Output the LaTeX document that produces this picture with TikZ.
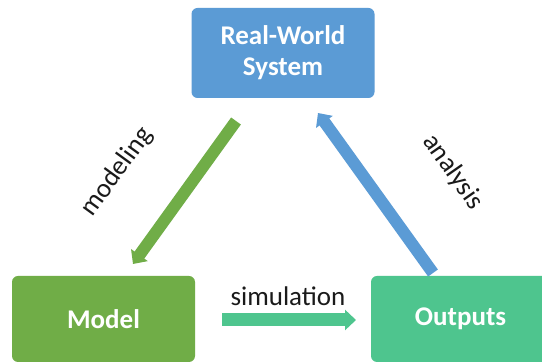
\documentclass[tikz,border=0pt]{standalone}
\usepackage{fontspec}
\setmainfont{Carlito}
\usetikzlibrary{arrows.meta}
\definecolor{cblue}{HTML}{5B9BD5}
\definecolor{cgreen}{HTML}{70AD47}
\definecolor{cteal}{HTML}{4EC58E}
\definecolor{ctext}{HTML}{1A1A1A}
\begin{document}
\begin{tikzpicture}[x=1pt,y=-1pt,
  box/.style={rounded corners=6pt, inner sep=0pt, text=white, align=center,
    font=\fontsize{27}{31}\selectfont\bfseries},
  lbl/.style={text=ctext, inner sep=0pt, font=\fontsize{27}{31}\selectfont},
  fatarrow/.style={line width=12pt, -{Triangle[width=20pt,length=11pt]}}]
\useasboundingbox (0,0) rectangle (542,363);
\clip (0,0) rectangle (542,363);
\fill[white] (0,0) rectangle (542,363);
\node[box, fill=cblue, minimum width=183pt, minimum height=90pt] (rw) at (283,53) {Real-World\\System};
\node[box, fill=cgreen, minimum width=183pt, minimum height=86pt] (model) at (103.5,319) {Model};
\node[box, fill=cteal, minimum width=179pt, minimum height=86pt] (out) at (460.5,319) {Outputs};
\coordinate (m1) at (236,121);
\coordinate (m2) at (133,264);
\coordinate (a1) at (433,273);
\coordinate (a2) at (318,113);
\coordinate (s1) at (222,320);
\coordinate (s2) at (356,320);
\draw[fatarrow, cgreen] (m1) -- (m2);
\draw[fatarrow, cblue] (a1) -- (a2);
\draw[fatarrow, cteal, line width=13pt] (s1) -- (s2);
\node[lbl, rotate=54] (lm) at (117,172) {modeling};
\node[lbl, rotate=-55] (la) at (453,172) {analysis};
\node[lbl] (ls) at (288,296) {simulation};
\end{tikzpicture}
\end{document}
